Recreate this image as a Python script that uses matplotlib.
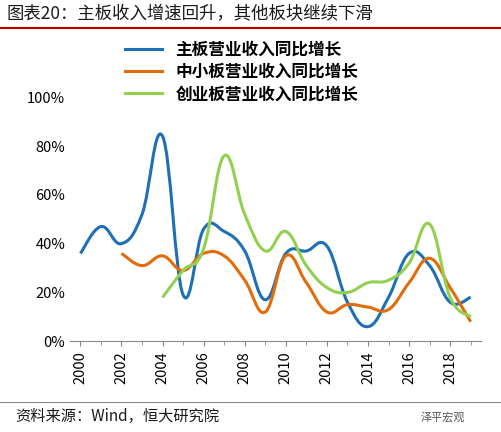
import matplotlib
matplotlib.use("Agg")
import matplotlib.pyplot as plt
from matplotlib.path import Path
from matplotlib.patches import PathPatch
from matplotlib.lines import Line2D
import numpy as np

plt.rcParams['font.family'] = ['Noto Sans CJK SC', 'DejaVu Sans']

years = list(range(2000, 2020))
main_board = [36, 47, 40, 52, 84, 19, 46, 45, 37, 17, 36, 37, 39, 16, 6, 18, 36, 31, 16, 18]
sme_years = list(range(2002, 2020))
sme_board = [36, 31, 35, 29, 36, 35, 25, 12, 35, 24, 12, 15, 14, 13, 24, 34, 22, 8]
gem_years = list(range(2004, 2020))
gem_board = [18, 29, 38, 76, 52, 37, 45, 31, 22, 20, 24, 25, 32, 48, 18, 10]

names = ['主板营业收入同比增长', '中小板营业收入同比增长', '创业板营业收入同比增长']
colors = ['#1f6fb5', '#e36c0a', '#92d050']

def smooth_path(xs, ys, t=0.2):
    xs = np.asarray(xs, float); ys = np.asarray(ys, float) / 100
    verts = [(xs[0], ys[0])]; codes = [Path.MOVETO]
    n = len(xs)
    for i in range(n - 1):
        p0 = np.array([xs[max(i-1, 0)], ys[max(i-1, 0)]])
        p1 = np.array([xs[i], ys[i]]); p2 = np.array([xs[i+1], ys[i+1]])
        p3 = np.array([xs[min(i+2, n-1)], ys[min(i+2, n-1)]])
        c1 = p1 + (p2 - p0) * t; c2 = p2 - (p3 - p1) * t
        verts += [tuple(c1), tuple(c2), tuple(p2)]; codes += [Path.CURVE4]*3
    return Path(verts, codes)

fig = plt.figure(figsize=(5.01, 4.32), dpi=100)
fig.text(0.012, 0.955, '图表20：主板收入增速回升，其他板块继续下滑', fontsize=12.5, color='#1a1a1a')
fig.add_artist(Line2D([0.0, 1.0], [0.935, 0.935], color='#c00000', lw=1.5))
fig.add_artist(Line2D([0.0, 1.0], [0.07, 0.07], color='#888888', lw=0.8))
fig.text(0.03, 0.025, '资料来源：Wind，恒大研究院', fontsize=11, style='italic', color='#1a1a1a')
fig.text(0.84, 0.025, '泽平宏观', fontsize=8, color='#555555')

ax = fig.add_axes([0.14, 0.21, 0.82, 0.565])
for xs, ys, c in [(years, main_board, colors[0]), (sme_years, sme_board, colors[1]), (gem_years, gem_board, colors[2])]:
    ax.add_patch(PathPatch(smooth_path(xs, ys), fill=False, edgecolor=c, lw=2.2))
ax.set_xlim(1999.5, 2019.5)
ax.set_ylim(0, 1.0)
ax.set_yticks(np.arange(0, 1.01, 0.2))
ax.set_yticklabels([f'{int(v*100)}%' for v in np.arange(0, 1.01, 0.2)], fontsize=10.5)
ax.set_xticks(range(2000, 2020, 2))
ax.set_xticklabels([str(y) for y in range(2000, 2020, 2)], rotation=90, fontsize=10.5)
ax.set_xticks(range(2000, 2020), minor=True)
for s in ['top', 'right', 'left']:
    ax.spines[s].set_visible(False)
ax.spines['bottom'].set_color('#888888')
ax.tick_params(axis='y', length=0)
ax.tick_params(axis='x', which='both', direction='out', color='#888888')
ax.tick_params(axis='x', which='minor', length=3)

handles = [Line2D([], [], color=c, lw=2.2) for c in colors]
fig.legend(handles, names, loc='upper left', bbox_to_anchor=(0.22, 0.94), frameon=False,
           prop={'size': 12, 'weight': 'bold'}, handlelength=2.2, labelspacing=0.25)
fig.savefig('out.png', dpi=100)
